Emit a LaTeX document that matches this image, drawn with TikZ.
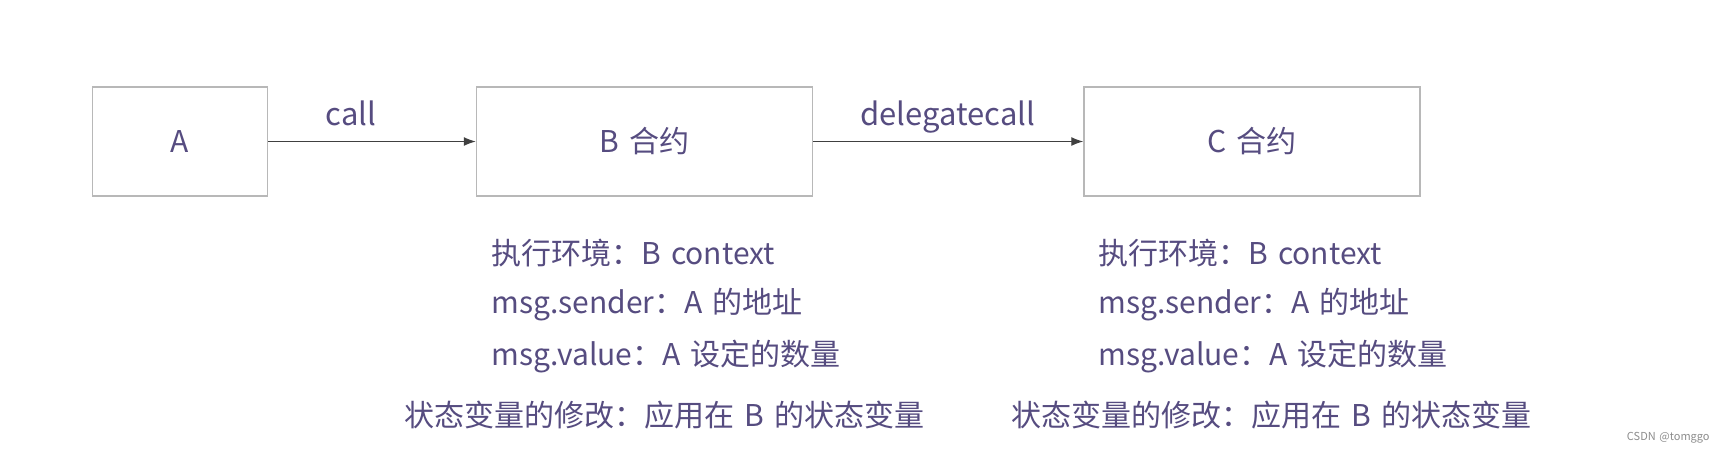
\documentclass[tikz,border=0pt]{standalone}
\usepackage{fontspec}
\setmainfont{Noto Sans CJK SC}[WordSpace=1.5]
\usepackage{xcolor}
\definecolor{tinta}{RGB}{86,76,128}
\usetikzlibrary{arrows.meta}

\begin{document}
\begin{tikzpicture}[x=0.5pt,y=-0.5pt,
    contrato/.style={rectangle,draw=black!28,line width=0.7pt,minimum height=54.5pt,inner sep=0pt,text=tinta,font=\fontsize{15}{18}\selectfont},
    flecha/.style={-{Latex[length=6pt,width=4.5pt]},draw=black!75,line width=0.6pt},
    etiqueta/.style={anchor=base,inner sep=0pt,text=tinta,font=\fontsize{15.5}{18}\selectfont},
    nota/.style={anchor=base west,inner sep=0pt,text=tinta,font=\fontsize{15}{18}\selectfont}
  ]
    \useasboundingbox (0,0) rectangle (1726,452);
    % cajas
    \node[contrato,minimum width=87.5pt] (A) at (180,141.5) {A};
    \node[contrato,minimum width=168pt] (B) at (644.5,141.5) {B 合约};
    \node[contrato,minimum width=168pt] (C) at (1252,141.5) {C 合约};
    % llamadas
    \draw[flecha] (A) -- (B);
    \draw[flecha] (B) -- (C);
    \node[etiqueta] (call) at (351,125) {call};
    \node[etiqueta] (delegate) at (948,125) {delegatecall};
    % notas bajo B
    \node[nota] (b1) at (491,264) {执行环境：B context};
    \node[nota] (b2) at (491,313) {msg.sender：A 的地址};
    \node[nota] (b3) at (491,365) {msg.value：A 设定的数量};
    \node[nota] (b4) at (404,426) {状态变量的修改：应用在 B 的状态变量};
    % notas bajo C
    \node[nota] (c1) at (1098,264) {执行环境：B context};
    \node[nota] (c2) at (1098,313) {msg.sender：A 的地址};
    \node[nota] (c3) at (1098,365) {msg.value：A 设定的数量};
    \node[nota] (c4) at (1011,426) {状态变量的修改：应用在 B 的状态变量};
    \node[anchor=base east,inner sep=0pt,text=black!45,font=\fontsize{5.5}{6}\selectfont] (marca) at (1710,440) {CSDN @tomggo};
\end{tikzpicture}
\end{document}
